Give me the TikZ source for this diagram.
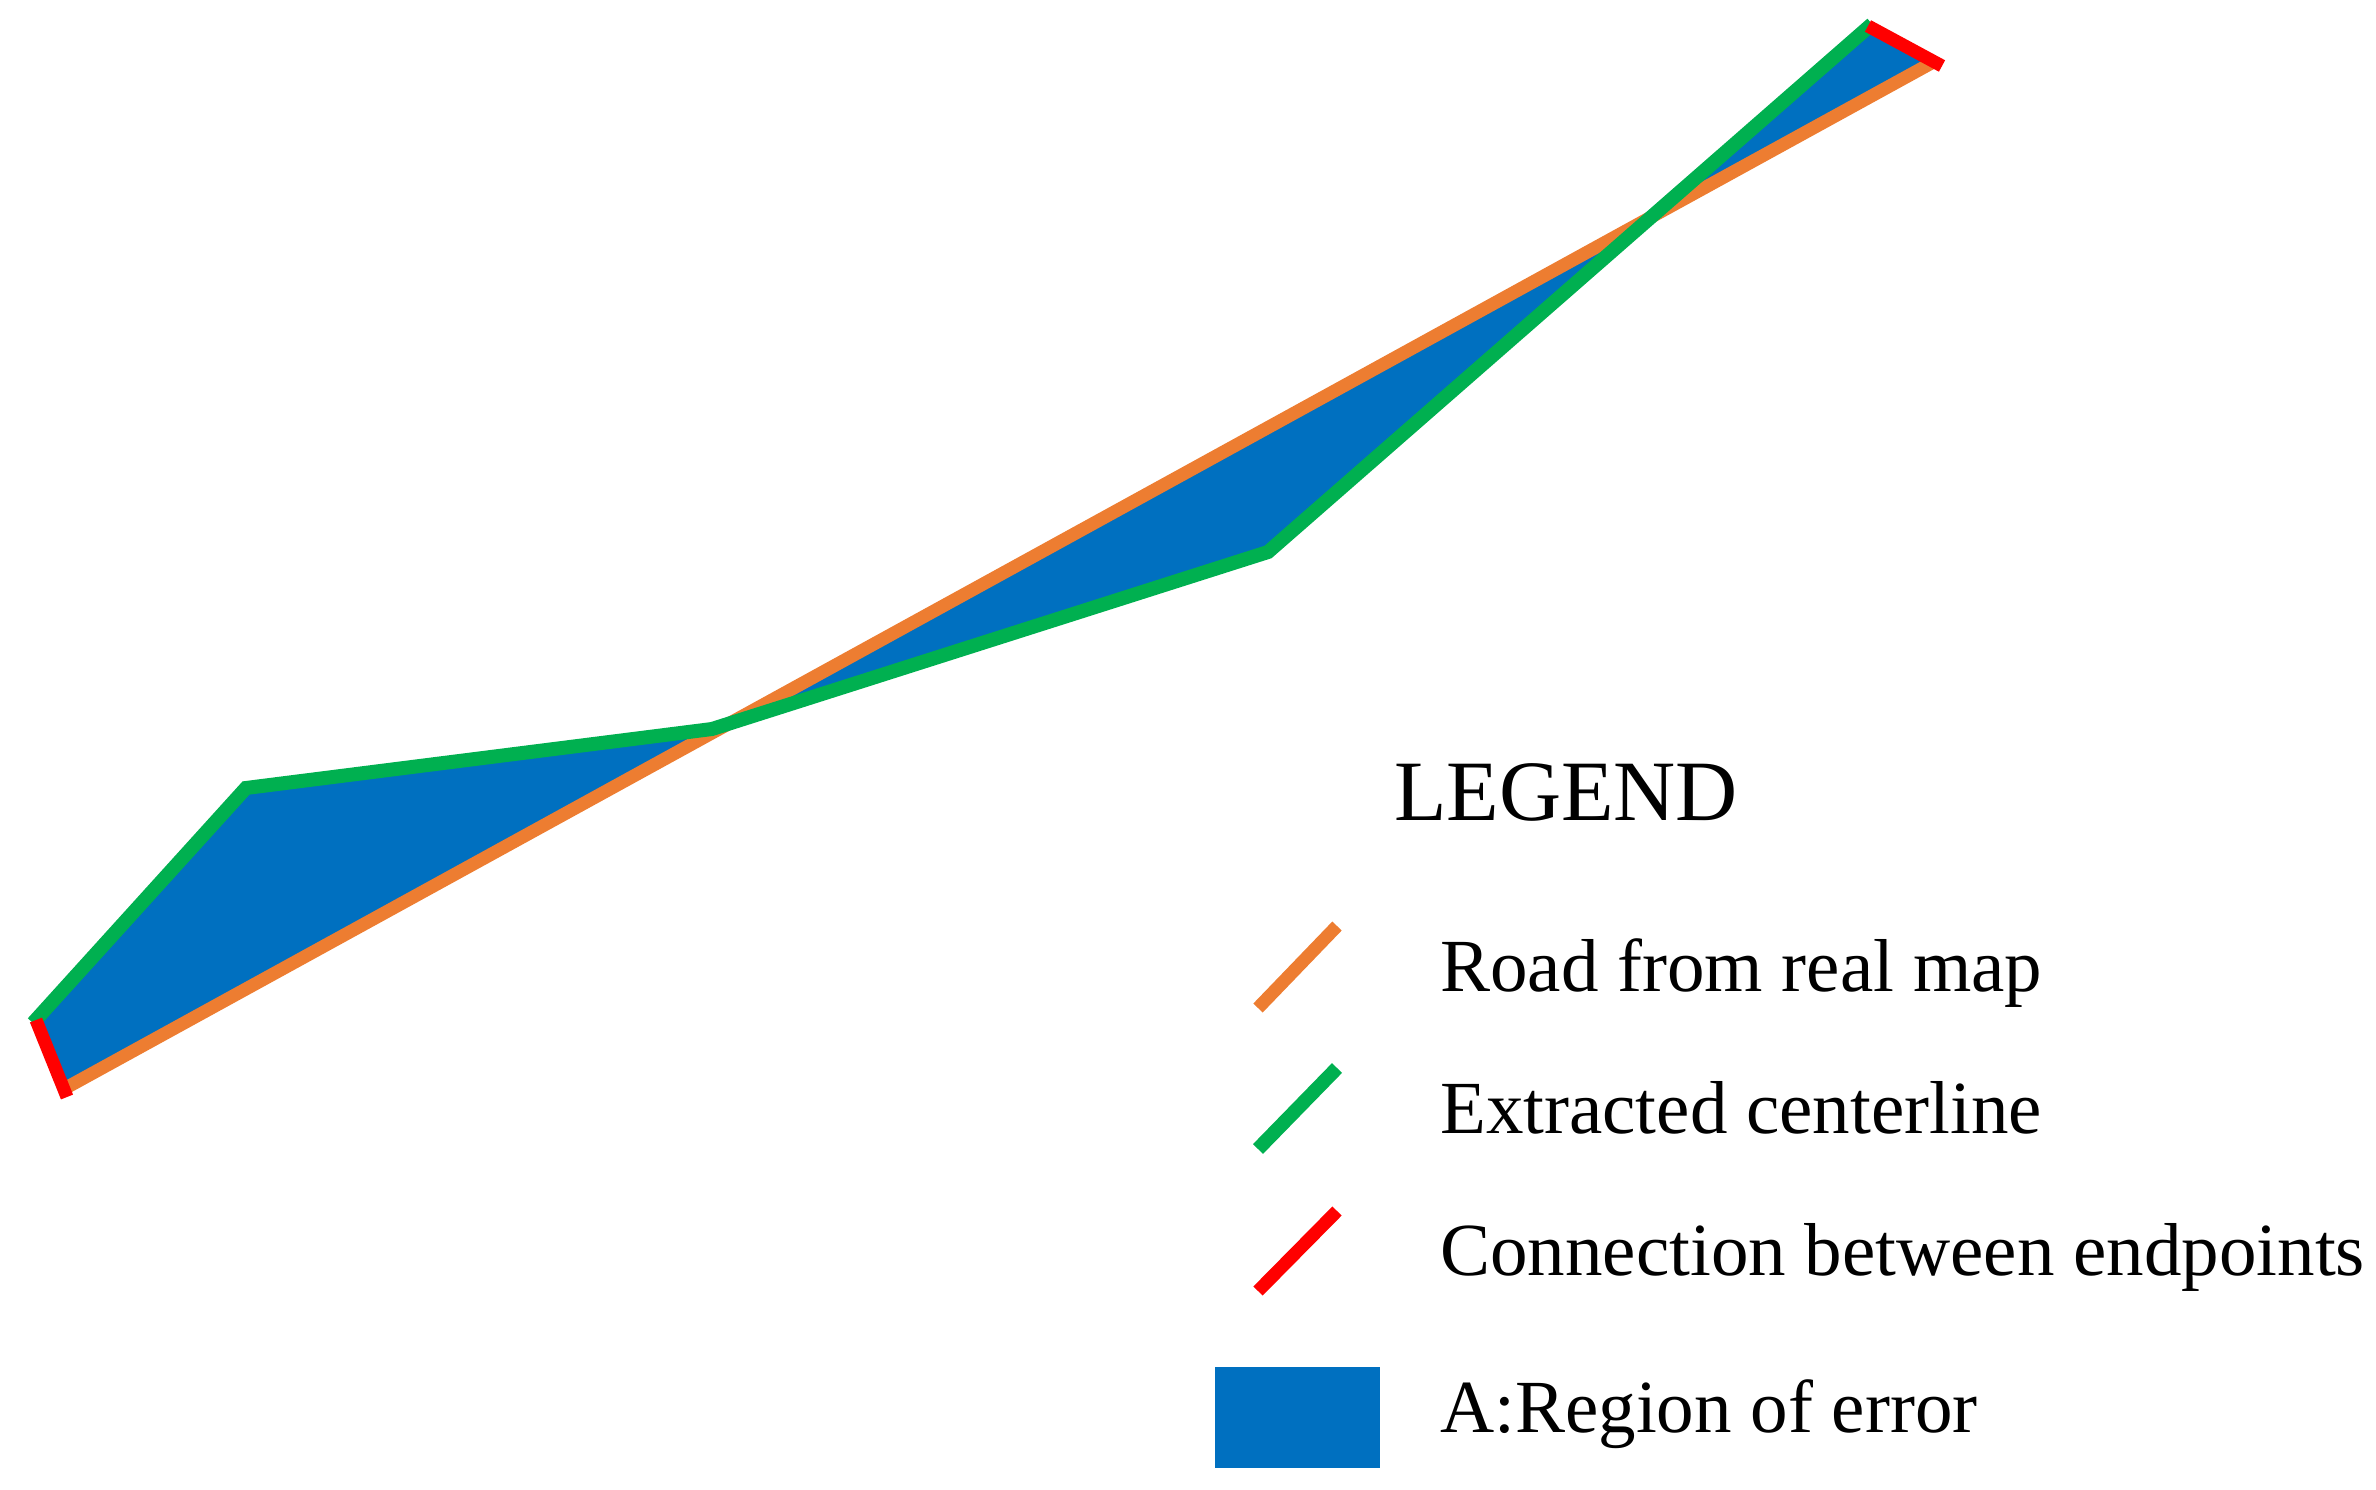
\documentclass[tikz,border=0pt]{standalone}
\usepackage{fontspec}
\setmainfont{Liberation Serif}
\definecolor{roadorange}{HTML}{ED7D31}
\definecolor{centgreen}{HTML}{00B050}
\definecolor{connred}{HTML}{FF0000}
\definecolor{errblue}{HTML}{0070C0}
\begin{document}
\begin{tikzpicture}[x=1pt,y=-1pt,
  roadline/.style={draw=roadorange,line width=13pt},
  centline/.style={draw=centgreen,line width=14pt,line join=miter},
  connline/.style={draw=connred,line width=13pt},
  legtext/.style={anchor=base west,inner sep=0pt,font=\fontsize{75}{90}\selectfont},
  legtitle/.style={anchor=base,inner sep=0pt,font=\fontsize{86}{100}\selectfont}]
\useasboundingbox (0,0) rectangle (2376,1490);
% key points
\coordinate (g0) at (33,1023);
\coordinate (g1) at (246,788);
\coordinate (g2) at (712,729);
\coordinate (g3) at (1268,552);
\coordinate (g4) at (1872,24);
\coordinate (o0) at (62,1090);
\coordinate (o1) at (1937,60);
\coordinate (r0a) at (36,1020);
\coordinate (r0b) at (67,1097);
\coordinate (r1a) at (1868,26);
\coordinate (r1b) at (1942,66);
% error region
\fill[errblue] (g0) -- (g1) -- (g2) -- (g3) -- (g4) -- (o1) -- (o0) -- cycle;
% road and centerline
\draw[roadline] (o0) -- (o1);
\draw[centline] (g0) -- (g1) -- (g2) -- (g3) -- (g4);
% connections between endpoints
\draw[connline] (r0a) -- (r0b);
\draw[connline] (r1a) -- (r1b);
% legend
\node[legtitle] (title) at (1566,820) {LEGEND};
\coordinate (lo1) at (1258,1008); \coordinate (lo2) at (1337,926);
\coordinate (lg1) at (1258,1149); \coordinate (lg2) at (1337,1068);
\coordinate (lr1) at (1258,1291); \coordinate (lr2) at (1337,1211);
\draw[roadline] (lo1) -- (lo2);
\draw[centline] (lg1) -- (lg2);
\draw[connline] (lr1) -- (lr2);
\fill[errblue] (1215,1367) rectangle (1380,1468);
\node[legtext] (t1) at (1440,991) {Road from real map};
\node[legtext] (t2) at (1440,1133) {Extracted centerline};
\node[legtext] (t3) at (1440,1275) {Connection between endpoints};
\node[legtext] (t4) at (1440,1432) {A:Region of error};
\end{tikzpicture}
\end{document}
